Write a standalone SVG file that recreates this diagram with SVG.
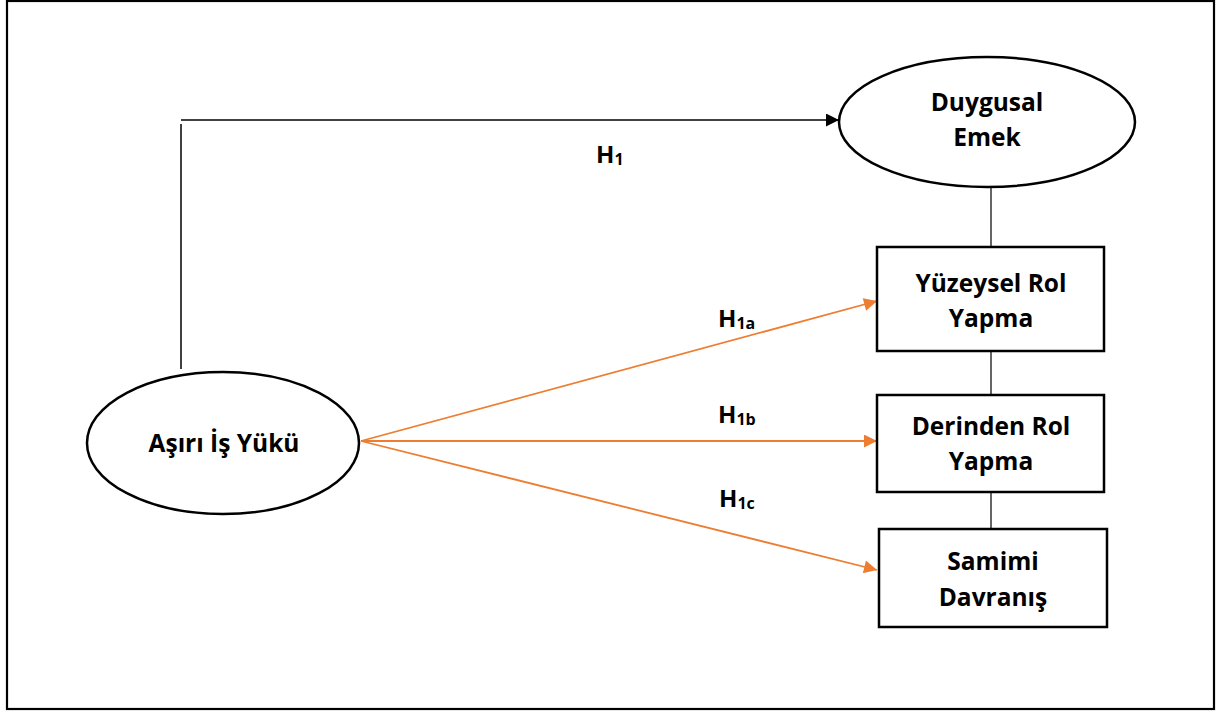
<svg xmlns="http://www.w3.org/2000/svg" width="1217" height="711" viewBox="0 0 1217 711">
<style>
.node{fill:#fff;stroke:#000;stroke-width:2.5}
.t{font-family:"Open Sans","Liberation Sans",sans-serif;font-weight:bold;font-size:24.5px;fill:#000;text-anchor:middle}
.lb{font-family:"Open Sans","Liberation Sans",sans-serif;font-weight:bold;font-size:24px;fill:#000}
.sub{font-size:16px}
.blk{stroke:#000;stroke-width:1.5;fill:none}
.org{stroke:#ED7D31;stroke-width:1.8;fill:none}
.lnk{stroke:#333;stroke-width:1.5;fill:none}
</style>
<defs>
<marker id="ab" viewBox="0 0 10 10" refX="10" refY="5" markerWidth="17" markerHeight="13" markerUnits="userSpaceOnUse" orient="auto"><path d="M0,0 L10,5 L0,10 Z" fill="#000"/></marker>
<marker id="ao" viewBox="0 0 10 10" refX="10" refY="5" markerWidth="17" markerHeight="13" markerUnits="userSpaceOnUse" orient="auto"><path d="M0,0 L10,5 L0,10 Z" fill="#ED7D31"/></marker>
</defs>
<rect x="7" y="1" width="1207" height="708" fill="#fff" stroke="#000" stroke-width="2.2"/>
<g id="connectors">
<polyline class="blk" points="181,369 181,124"/>
<line class="blk" x1="181" y1="120" x2="839" y2="120" marker-end="url(#ab)"/>
<line class="lnk" x1="991" y1="187" x2="991" y2="247"/>
<line class="lnk" x1="991" y1="351" x2="991" y2="395"/>
<line class="lnk" x1="991" y1="492" x2="991" y2="529"/>
<line class="org" x1="361" y1="441" x2="877" y2="301" marker-end="url(#ao)"/>
<line class="org" x1="361" y1="441" x2="877" y2="441" marker-end="url(#ao)"/>
<line class="org" x1="361" y1="441" x2="877" y2="570" marker-end="url(#ao)"/>
<text class="lb" x="596" y="163">H<tspan class="sub" dy="2">1</tspan></text>
<text class="lb" x="718" y="327">H<tspan class="sub" dy="2">1a</tspan></text>
<text class="lb" x="718" y="423">H<tspan class="sub" dy="2">1b</tspan></text>
<text class="lb" x="719" y="507">H<tspan class="sub" dy="2">1c</tspan></text>
</g>
<g id="duygusal-emek">
<ellipse class="node" cx="987" cy="122" rx="148" ry="65"/>
<text class="t" x="987" y="111">Duygusal</text>
<text class="t" x="987" y="146">Emek</text>
</g>
<g id="yuzeysel">
<rect class="node" x="877" y="247" width="227" height="104"/>
<text class="t" x="991" y="292">Yüzeysel Rol</text>
<text class="t" x="991" y="327">Yapma</text>
</g>
<g id="derinden">
<rect class="node" x="877" y="395" width="227" height="97"/>
<text class="t" x="991" y="435">Derinden Rol</text>
<text class="t" x="991" y="470">Yapma</text>
</g>
<g id="samimi">
<rect class="node" x="879" y="529" width="228" height="98"/>
<text class="t" x="993" y="570">Samimi</text>
<text class="t" x="993" y="606">Davranış</text>
</g>
<g id="asiri-is-yuku">
<ellipse class="node" cx="223" cy="443" rx="136" ry="71"/>
<text class="t" x="224" y="452">Aşırı İş Yükü</text>
</g>
</svg>
